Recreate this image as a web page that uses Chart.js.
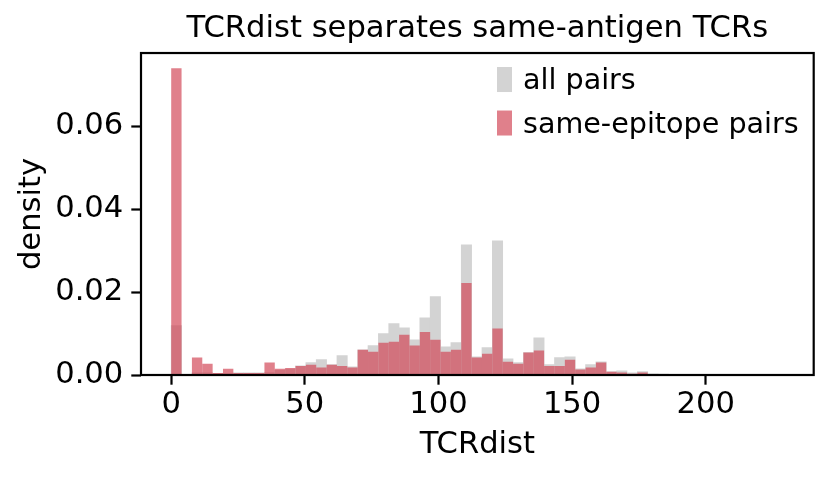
<!DOCTYPE html>
<html>
<head>
<meta charset="utf-8">
<script src="https://cdn.jsdelivr.net/npm/chart.js@4"></script>
<style>
    body { margin: 0; background: #fff; }
    #wrap { width: 830px; height: 478px; }
</style>
</head>
<body>
<div id="wrap"><canvas id="myChart" width="830" height="478"></canvas></div>
<script>
// histogram bins
var binWidth = 3.876;

var allPairs = [
    0.0119, 0, 0.0005, 0.0005, 0.0004, 0.0004, 0.0005, 0.0005, 0.0005, 0.0006,
    0.0011, 0.0014, 0.0022, 0.0030, 0.0037, 0.0025, 0.0047, 0.0020, 0.0061, 0.0071,
    0.0100, 0.0124, 0.0114, 0.0085, 0.0138, 0.0189, 0.0068, 0.0078, 0.0314, 0.0044,
    0.0066, 0.0324, 0.0039, 0.0030, 0.0054, 0.0090, 0.0025, 0.0042, 0.0044, 0.0015,
    0.0025, 0.0032, 0.0008, 0.0010, 0.0005, 0.0008, 0.0003, 0.0002, 0.0001, 0,
    0, 0, 0, 0, 0, 0, 0, 0, 0
];

var sameEpitope = [
    0.0740, 0, 0.0042, 0.0027, 0.0005, 0.0015, 0.0005, 0.0005, 0.0005, 0.0030,
    0.0015, 0.0017, 0.0022, 0.0025, 0.0018, 0.0025, 0.0022, 0.0018, 0.0061, 0.0056,
    0.0078, 0.0080, 0.0097, 0.0071, 0.0104, 0.0085, 0.0056, 0.0061, 0.0222, 0.0042,
    0.0051, 0.0112, 0.0032, 0.0027, 0.0054, 0.0059, 0.0022, 0.0022, 0.0037, 0.0013,
    0.0018, 0.0030, 0.0008, 0.0006, 0.0003, 0.0006, 0, 0, 0, 0,
    0, 0, 0, 0, 0, 0, 0, 0, 0
];

var seriesNames = ['all pairs', 'same-epitope pairs'];
var xTicks = [0, 50, 100, 150, 200];
var yTicks = [0, 0.02, 0.04, 0.06];

var FONT = 'DejaVu Sans';
var grayColor = '#d3d3d3';
var redColor = 'rgba(210, 68, 84, 0.68)';

function toPoints(values){
    var pts = [];
    for(var i = 0; i < values.length; i++){
        pts.push({x: (i + 0.5) * binWidth, y: values[i]});
    }
    return pts;
}

function setTicks(list){
    return function(scale){
        scale.ticks = list.map(function(v){ return {value: v}; });
    };
}

// four spines + legend inside the axes
var frame = {
    id: 'frame',
    afterDatasetsDraw: function(chart){
        var ctx = chart.ctx;
        var a = chart.chartArea;
        ctx.save();
        ctx.strokeStyle = '#000';
        ctx.lineWidth = 2.2;
        ctx.strokeRect(a.left, a.top, a.right - a.left, a.bottom - a.top);

        var ds = chart.data.datasets;
        var bx = a.left + 356;
        ctx.font = '28.6px "' + FONT + '"';
        ctx.textBaseline = 'alphabetic';
        ctx.textAlign = 'left';
        for(var i = 0; i < ds.length; i++){
            var y = a.top + 14 + i * 43.5;
            ctx.fillStyle = ds[i].backgroundColor;
            ctx.fillRect(bx, y, 15, 25);
            ctx.fillStyle = '#000';
            ctx.fillText(ds[i].label, bx + 26, y + 22);
        }
        ctx.restore();
    }
};

var ctx = document.getElementById('myChart');
var myChart = new Chart(ctx, {
    type: 'bar',
    data: {
        datasets: [{
            label: seriesNames[0],
            data: toPoints(allPairs),
            backgroundColor: grayColor,
            borderWidth: 0,
            grouped: false,
            barPercentage: 1,
            categoryPercentage: 1,
            order: 2
        }, {
            label: seriesNames[1],
            data: toPoints(sameEpitope),
            backgroundColor: redColor,
            borderWidth: 0,
            grouped: false,
            barPercentage: 1,
            categoryPercentage: 1,
            inflateAmount: 0,
            order: 1
        }]
    },
    options: {
        responsive: false,
        animation: false,
        layout: {padding: {left: 0, right: 16.3, top: 0, bottom: 0}},
        plugins: {
            legend: {display: false},
            tooltip: {enabled: false},
            title: {
                display: true,
                text: 'TCRdist separates same-antigen TCRs',
                fullSize: false,
                color: '#000',
                font: {family: FONT, size: 30.6, weight: 'normal'},
                padding: {top: 11, bottom: 5.3}
            }
        },
        scales: {
            x: {
                type: 'linear',
                min: -11.3,
                max: 240.4,
                offset: false,
                afterBuildTicks: setTicks(xTicks),
                afterFit: function(s){ s.height = 103; },
                grid: {offset: false, drawOnChartArea: false, tickLength: 9.7, tickWidth: 2.2, tickColor: '#000'},
                border: {display: false},
                ticks: {
                    color: '#000',
                    padding: 2,
                    maxRotation: 0,
                    font: {family: FONT, size: 30.6},
                    callback: function(v){ return String(v); }
                },
                title: {
                    display: true,
                    text: 'TCRdist',
                    color: '#000',
                    font: {family: FONT, size: 30.6},
                    padding: {top: 0, bottom: 14.6}
                }
            },
            y: {
                min: 0,
                max: 0.0777,
                afterBuildTicks: setTicks(yTicks),
                afterFit: function(s){ s.width = 141; },
                grid: {drawOnChartArea: false, tickLength: 9.7, tickWidth: 2.2, tickColor: '#000'},
                border: {display: false},
                ticks: {
                    color: '#000',
                    padding: 8,
                    font: {family: FONT, size: 30.6},
                    callback: function(v){ return v.toFixed(2); }
                },
                title: {
                    display: true,
                    text: 'density',
                    color: '#000',
                    font: {family: FONT, size: 30.6},
                    padding: {top: 13.6, bottom: 0}
                }
            }
        }
    },
    plugins: [frame]
});
</script>
</body>
</html>
